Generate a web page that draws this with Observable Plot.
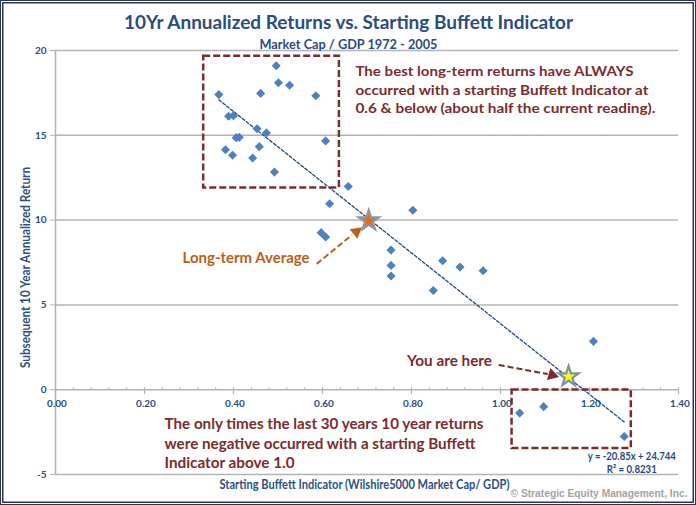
<!DOCTYPE html>
<html>
<head>
<meta charset="utf-8">
<script src="https://cdn.jsdelivr.net/npm/d3@7"></script>
<script src="https://cdn.jsdelivr.net/npm/@observablehq/plot@0.6"></script>
<style>
  html, body { margin: 0; padding: 0; background: #fff; }
  #chart { width: 696px; height: 505px; }
</style>
</head>
<body>
<div id="chart"></div>
<script>
// ---- Data ----
const startIndicator = [0.367, 0.496, 0.501, 0.526, 0.461, 0.585, 0.389, 0.400, 0.453, 0.474,
  0.406, 0.413, 0.607, 0.382, 0.458, 0.398, 0.443, 0.492, 0.658, 0.616,
  0.597, 0.607, 0.803, 0.754, 0.754, 0.754, 0.870, 0.909, 0.961, 0.849,
  1.209, 1.043, 1.097, 1.278];
const tenYearReturn = [17.40, 19.10, 18.10, 17.95, 17.47, 17.33, 16.12, 16.16, 15.39, 15.14,
  14.86, 14.88, 14.67, 14.15, 14.33, 13.82, 13.66, 12.83, 11.98, 10.96,
  9.26, 9.00, 10.58, 8.23, 7.33, 6.70, 7.60, 7.23, 7.01, 5.85,
  2.85, -1.38, -1.00, -2.76];
const longTermAverage = [{x: 0.704, y: 9.97}];
const currentReading = [{x: 1.153, y: 0.77}];
const trendSlope = -20.85;
const trendIntercept = 24.744;
const trendR2 = 0.8231;

const xTickValues = [0, 0.2, 0.4, 0.6, 0.8, 1.0, 1.2, 1.4];
const xTickLabels = ["0.00", "0.20", "0.40", "0.60", "0.80", "1.00", "1.20", "1.40"];
const yTickValues = [-5, 0, 5, 10, 15, 20];
const yGridValues = [-5, 5, 10, 15, 20];

const titleText = "10Yr Annualized Returns vs. Starting Buffett Indicator";
const subtitleText = "Market Cap / GDP 1972 - 2005";
const xTitle = "Starting Buffett Indicator (Wilshire5000 Market Cap/ GDP)";
const yTitle = "Subsequent 10 Year Annualized Return";
const creditText = "\u00A9 Strategic Equity Management, Inc.";
const bestNote = ["The best long-term returns have ALWAYS", "occurred with a starting Buffett Indicator at", "0.6 & below (about half the current reading)."];
const negNote = ["The only times the last 30 years 10 year returns", "were negative occurred with a starting Buffett", "Indicator above 1.0"];
const avgLabel = "Long-term Average";
const hereLabel = "You are here";
const eqText = "y = -20.85x + 24.744";
const r2Text = "R\u00B2 = " + trendR2;

// annotation anchors (data coordinates)
const boxes = [{x1: 0.333, x2: 0.638, y1: 19.66, y2: 11.9}, {x1: 1.026, x2: 1.294, y1: -0.02, y2: -3.46}];
const avgArrow = [{x1: 0.587, y1: 7.42, x2: 0.666, y2: 9.12, hx: 0.676, hy: 9.31, rot: 51}];
const hereArrow = [{x1: 0.996, y1: 1.46, x2: 1.106, y2: 0.92, hx: 1.116, hy: 0.87, rot: 106}];

// ---- Build ----
const points = startIndicator.map((x, i) => ({x, y: tenYearReturn[i]}));
const xMin = d3.min(startIndicator), xMax = d3.max(startIndicator);
const trend = [xMin, xMax].map(x => ({x, y: trendSlope * x + trendIntercept}));
const minorTicks = d3.range(0, 36).map(i => +(i * 0.04).toFixed(2))
  .filter(v => Math.abs(Math.round(v / 0.2) * 0.2 - v) > 1e-6);

const gray = "#b3b3b3";
const blue = "#2b4c7e";
const red = "#7b2c2c";
const orange = "#b9601a";
const font = "Lato, sans-serif";

const chart = Plot.plot({
  width: 696, height: 505,
  marginLeft: 55, marginRight: 18, marginTop: 50, marginBottom: 31,
  x: {domain: [0, 1.4], axis: null},
  y: {domain: [-5, 20]},
  style: {fontFamily: font, background: "#fff", overflow: "visible"},
  marks: [
    Plot.ruleY(yGridValues, {stroke: gray, strokeWidth: 1.5}),
    Plot.ruleY([0], {stroke: gray, strokeWidth: 1.5}),
    Plot.ruleX([0], {y1: -5, y2: 20, stroke: gray, strokeWidth: 1.5}),
    Plot.ruleX(minorTicks, {y1: 0, y2: 0.12, stroke: gray, strokeWidth: 1}),
    Plot.ruleX(xTickValues, {y1: 0.12, y2: -0.28, stroke: gray, strokeWidth: 1.2}),
    Plot.text(xTickValues, {x: d => d, y: 0, dy: 14, dx: 1.5, text: (d, i) => xTickLabels[i], fill: blue, fontSize: 10, fontWeight: "bold"}),
    Plot.axisY({ticks: yTickValues, tickSize: 5, tickPadding: 4, stroke: gray, fill: blue, fontSize: 10, fontWeight: "bold", label: null, tickFormat: d => String(d)}),
    Plot.rect(boxes, {x1: "x1", x2: "x2", y1: "y1", y2: "y2", fill: "none", stroke: red, strokeWidth: 2.5, strokeDasharray: "7,3"}),
    Plot.line(trend, {x: "x", y: "y", stroke: "#1f497d", strokeWidth: 1.3, strokeDasharray: "3,2"}),
    Plot.dot(points, {x: "x", y: "y", symbol: "diamond2", r: 4.1, fill: "#4f81bd", stroke: "none"}),
    Plot.dot(longTermAverage, {x: "x", y: "y", symbol: "star", r: 6.3, fill: "#e46c0a", stroke: "#8c96a8", strokeWidth: 2.2}),
    Plot.dot(currentReading, {x: "x", y: "y", symbol: "star", r: 6.3, fill: "#ffff00", stroke: "#7d8fae", strokeWidth: 2.2}),
    Plot.link(avgArrow, {x1: "x1", y1: "y1", x2: "x2", y2: "y2", stroke: orange, strokeWidth: 2, strokeDasharray: "6,3"}),
    Plot.dot(avgArrow, {x: "hx", y: "hy", symbol: "triangle", r: 4.6, rotate: "rot", fill: orange, stroke: "none"}),
    Plot.link(hereArrow, {x1: "x1", y1: "y1", x2: "x2", y2: "y2", stroke: red, strokeWidth: 2, strokeDasharray: "6,3"}),
    Plot.dot(hereArrow, {x: "hx", y: "hy", symbol: "triangle", r: 4.6, rotate: "rot", fill: red, stroke: "none"}),
    // annotations
    Plot.text([bestNote.join("\n")], {x: 0.674, y: 17.74, textAnchor: "start", lineAnchor: "middle", lineHeight: 1.31, fontSize: 14, fontWeight: "bold", fill: red}),
    Plot.text([negNote.join("\n")], {x: 0.245, y: -3.11, textAnchor: "start", lineAnchor: "middle", lineHeight: 1.36, fontSize: 14.5, fontWeight: "bold", fill: red}),
    Plot.text([avgLabel], {x: 0.571, y: 7.73, textAnchor: "end", fontSize: 15, fontWeight: "bold", fill: orange}),
    Plot.text([hereLabel], {x: 0.79, y: 1.65, textAnchor: "start", fontSize: 14.5, fontWeight: "bold", fill: red}),
    Plot.text([eqText], {x: 1.295, y: -3.95, fontSize: 10.5, fontWeight: "bold", fill: "#1f497d"}),
    Plot.text([r2Text], {x: 1.295, y: -4.74, fontSize: 10.5, fontWeight: "bold", fill: "#1f497d"}),
    // titles
    Plot.text([titleText], {frameAnchor: "top", lineAnchor: "middle", dx: -18.5, dy: -27.3, fontSize: 19, fontWeight: "bold", fill: blue}),
    Plot.text([subtitleText], {frameAnchor: "top", lineAnchor: "middle", dx: -18.5, dy: -6.3, fontSize: 13.5, fontWeight: "bold", fill: blue}),
    Plot.text([xTitle], {frameAnchor: "bottom", lineAnchor: "middle", dx: -2.5, dy: 10, fontSize: 12.5, fontWeight: "bold", fill: "#2a5082"}),
    Plot.text([yTitle], {frameAnchor: "left", textAnchor: "middle", lineAnchor: "middle", dx: -30, dy: 5, rotate: -90, fontSize: 12.5, fontWeight: "bold", fill: "#2a5082"}),
    Plot.text([creditText], {frameAnchor: "bottom-right", lineAnchor: "middle", dx: -79.5, dy: 18.7, textAnchor: "middle", fontFamily: "'Liberation Sans', Arial, sans-serif", fontSize: 10.5, fontWeight: "bold", fill: "#a3a3a3"})
  ]
});

document.getElementById("chart").appendChild(chart);

// fit text widths to the reference's (narrow Calibri-like) widths
const widths = {};
widths[titleText] = 449; widths[subtitleText] = 178;
widths[bestNote[0]] = 278; widths[bestNote[1]] = 293; widths[bestNote[2]] = 300;
widths[negNote[0]] = 319; widths[negNote[1]] = 311; widths[negNote[2]] = 130;
widths[avgLabel] = 127; widths[hereLabel] = 85;
widths[eqText] = 88; widths[r2Text] = 50;
widths[xTitle] = 290; widths[yTitle] = 201; widths[creditText] = 177;
chart.querySelectorAll("text, tspan").forEach(el => {
  if (el.querySelector("tspan")) return;
  const t = el.textContent;
  if (widths[t]) {
    el.setAttribute("textLength", widths[t]);
    el.setAttribute("lengthAdjust", "spacingAndGlyphs");
  }
});

// outer double frame
const svg = d3.select(chart);
svg.append("rect").attr("x", 0.5).attr("y", 0.5).attr("width", 695).attr("height", 504)
  .attr("fill", "none").attr("stroke", "#2a3650").attr("stroke-width", 1);
svg.append("rect").attr("x", 2.75).attr("y", 2.75).attr("width", 690.5).attr("height", 499.5)
  .attr("fill", "none").attr("stroke", "#2a3650").attr("stroke-width", 1.5);
</script>
</body>
</html>
